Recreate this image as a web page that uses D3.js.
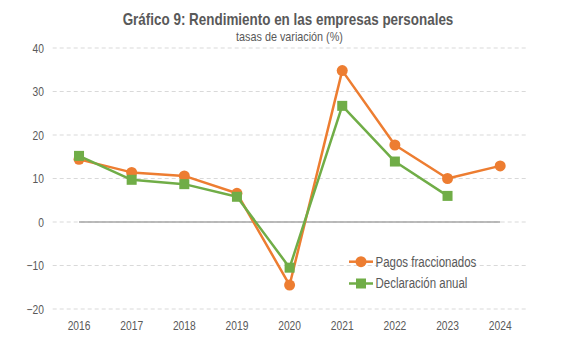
<!DOCTYPE html>
<html><head><meta charset="utf-8">
<script src="https://cdn.jsdelivr.net/npm/d3@7"></script>
<style>body{margin:0;background:#fff}svg{display:block}text{font-family:"Liberation Sans",Arial,sans-serif}</style>
</head><body><svg id="c" width="567" height="338"></svg>
<script>
const years = ["2016","2017","2018","2019","2020","2021","2022","2023","2024"];
const pagosFraccionados = [14.4, 11.4, 10.6, 6.6, -14.5, 34.8, 17.7, 10.0, 12.9];
const declaracionAnual = [15.2, 9.7, 8.7, 5.8, -10.5, 26.7, 13.9, 6.0, null];
const yTicks = [-20, -10, 0, 10, 20, 30, 40];
const seriesNames = ["Pagos fraccionados", "Declaración anual"];
const colors = ["#ED7D31", "#70AD47"];

const svg = d3.select("#c");
const x = d3.scaleBand().domain(years).range([52.7, 526.5]);
const y = d3.scaleLinear().domain([-20, 40]).range([309, 48]);
const cx = d => x(d) + x.bandwidth()/2;

// simulate a narrow font by compressing glyphs horizontally
function narrow(sel, ratio) {
  sel.each(function(){
    const w = this.getComputedTextLength();
    d3.select(this).attr("textLength", w*ratio).attr("lengthAdjust","spacingAndGlyphs");
  });
}

svg.append("text").attr("x", 288).attr("y", 25).attr("text-anchor","middle")
  .attr("font-size", 17).attr("font-weight","bold").attr("fill","#595959")
  .text("Gráfico 9: Rendimiento en las empresas personales").call(narrow, 0.79);
svg.append("text").attr("x", 289.5).attr("y", 41).attr("text-anchor","middle")
  .attr("font-size", 13).attr("fill","#595959").text("tasas de variación (%)").call(narrow, 0.83);

// grid
const g = svg.append("g");
g.selectAll("line.grid").data(yTicks).join("line")
  .attr("x1", 52.7).attr("x2", 526.5).attr("y1", d=>y(d)).attr("y2", d=>y(d))
  .attr("stroke","#d9d9d9").attr("stroke-width",1).attr("stroke-dasharray","4,3");
g.append("line").attr("x1", cx(years[0])).attr("x2", cx(years[years.length-1]))
  .attr("y1", y(0)).attr("y2", y(0)).attr("stroke","#a6a6a6").attr("stroke-width",1.5);

// axes
const ya = d3.axisLeft(y).tickValues(yTicks).tickSize(0).tickPadding(0);
svg.append("g").attr("transform","translate(44,0)").call(ya)
  .call(s=>s.select(".domain").remove())
  .selectAll("text").attr("font-size",12.5).attr("fill","#595959").attr("font-family",null)
  .call(narrow, 0.82);
const xa = d3.axisBottom(x).tickSize(0).tickPadding(0);
svg.append("g").attr("transform","translate(0,321)").call(xa)
  .call(s=>s.select(".domain").remove())
  .selectAll("text").attr("font-size",12.5).attr("fill","#595959").attr("font-family",null)
  .call(narrow, 0.82);

const data = [pagosFraccionados, declaracionAnual];
const line = d3.line().defined(d=>d.v!=null).x(d=>cx(d.k)).y(d=>y(d.v));
data.forEach((arr,i)=>{
  const pts = years.map((k,j)=>({k, v: arr[j]}));
  svg.append("path").datum(pts).attr("d", line).attr("fill","none")
    .attr("stroke", colors[i]).attr("stroke-width", 2.5).attr("stroke-linejoin","round");
  const valid = pts.filter(d=>d.v!=null);
  if (i===0) {
    svg.selectAll(null).data(valid).join("circle").attr("cx",d=>cx(d.k)).attr("cy",d=>y(d.v))
      .attr("r",5.5).attr("fill",colors[i]);
  } else {
    svg.selectAll(null).data(valid).join("rect").attr("x",d=>cx(d.k)-5).attr("y",d=>y(d.v)-5)
      .attr("width",10).attr("height",10).attr("fill",colors[i]);
  }
});

// legend
seriesNames.forEach((n,i)=>{
  const ly = 261.7 + i*21.8;
  const lg = svg.append("g");
  lg.append("line").attr("x1",349).attr("x2",373).attr("y1",ly).attr("y2",ly)
    .attr("stroke",colors[i]).attr("stroke-width",2.5);
  if (i===0) lg.append("circle").attr("cx",361).attr("cy",ly).attr("r",5.5).attr("fill",colors[i]);
  else lg.append("rect").attr("x",356).attr("y",ly-5).attr("width",10).attr("height",10).attr("fill",colors[i]);
  lg.append("text").attr("x",375.5).attr("y",ly+4.8).attr("font-size",14).attr("fill","#595959")
    .text(n).call(narrow, 0.82);
});
</script></body></html>
